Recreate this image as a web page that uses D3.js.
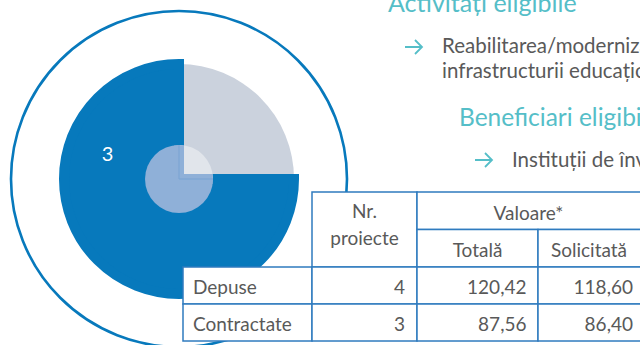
<!DOCTYPE html>
<html lang="ro">
<head>
<meta charset="utf-8">
<script src="https://cdn.jsdelivr.net/npm/d3@7"></script>
<style>
  html, body { margin: 0; padding: 0; background: #ffffff; }
  svg { display: block; }
</style>
</head>
<body>
<svg id="chart" width="640" height="345"></svg>
<script>
// Project status table (values in mil. lei)
const rowLabels = ["Depuse", "Contractate"];
const projectCounts = [4, 3];
const totalValues = [120.42, 87.56];
const requestedValues = [118.60, 86.40];
const groupHeaders = ["Nr.\nproiecte", "Valoare*"];
const subHeaders = ["Totală", "Solicitată"];

// Bullet text beside the chart
const sectionTitles = ["Activități eligibile", "Beneficiari eligibili"];
const activityLines = ["Reabilitarea/modernizarea/extinderea/echiparea", "infrastructurii educaționale"];
const beneficiaryLines = ["Instituții de învățământ superior"];

// Pie: contracted projects vs. the rest of the submitted ones
const pieLabels = ["necontractate", "contractate"];
const pieValues = [projectCounts[0] - projectCounts[1], projectCounts[1]];

const BLUE = "#0779bc";
const GREY = "#cbd2dd";
const TEAL = "#55bec8";
const TEXT = "#595959";
const FONT = "Lato, 'Open Sans', sans-serif";

const svg = d3.select("#chart");
const cx = 179, cy = 179;
const R = 115;

// Outer ring
svg.append("circle")
  .attr("cx", cx).attr("cy", cy).attr("r", 168)
  .attr("fill", "none").attr("stroke", BLUE).attr("stroke-width", 2.6);

const pie = d3.pie().sort(null).value(d => d)(pieValues);
const arc = d3.arc().innerRadius(0).outerRadius(R);
const pieColor = d3.scaleOrdinal().domain(pieLabels).range([GREY, BLUE]);
const pieStroke = d3.scaleOrdinal().domain(pieLabels).range(["none", BLUE]);

const g = svg.append("g").attr("transform", `translate(${cx},${cy})`);
g.selectAll("path.slice")
  .data(pie)
  .join("path")
  .attr("class", "slice")
  .attr("d", arc)
  .attr("fill", (d, i) => pieColor(pieLabels[i]))
  .attr("stroke", (d, i) => pieStroke(pieLabels[i]))
  .attr("stroke-width", 10)
  .attr("stroke-linejoin", "miter");

// Translucent hub: the same slices, lighter, clipped to a small disc
svg.append("defs").append("clipPath").attr("id", "hub")
  .append("circle").attr("cx", 0).attr("cy", 0).attr("r", 34);
const hubColor = d3.scaleOrdinal().domain(pieLabels).range(["#e1e5eb", "#8fb0d8"]);
const hub = g.append("g").attr("clip-path", "url(#hub)");
hub.selectAll("path.hub")
  .data(pie)
  .join("path")
  .attr("class", "hub")
  .attr("d", arc)
  .attr("fill", (d, i) => hubColor(pieLabels[i]))
  .attr("stroke", (d, i) => i === 1 ? hubColor(pieLabels[i]) : "none")
  .attr("stroke-width", 10)
  .attr("stroke-linejoin", "miter");
hub.append("path")
  .attr("d", arc(pie[1]))
  .attr("fill", "none")
  .attr("stroke", "#79a3d3")
  .attr("stroke-width", 1);

// Value label on the contracted slice
const labelPos = d3.pointRadial(-1.22, 76);
g.append("text")
  .attr("x", labelPos[0]).attr("y", labelPos[1])
  .attr("text-anchor", "middle").attr("dominant-baseline", "central")
  .attr("fill", "#ffffff").attr("font-family", FONT).attr("font-size", 20)
  .text(pieValues[1]);

// Right-hand bullet text
const txt = svg.append("g").attr("font-family", FONT);

function bulletArrow(x, y) {
  txt.append("path")
    .attr("d", `M${x},${y}H${x + 17}M${x + 10},${y - 7}L${x + 17},${y}L${x + 10},${y + 7}`)
    .attr("fill", "none").attr("stroke", TEAL).attr("stroke-width", 1.8)
    .attr("stroke-linejoin", "miter");
}

txt.append("text").attr("x", 388).attr("y", 12)
  .attr("fill", TEAL).attr("font-size", 25).text(sectionTitles[0]);
bulletArrow(405, 47);
txt.selectAll("text.act")
  .data(activityLines)
  .join("text")
  .attr("class", "act")
  .attr("x", 442).attr("y", (d, i) => 53 + i * 25)
  .attr("fill", TEXT).attr("font-size", 20.5)
  .text(d => d);
txt.append("text").attr("x", 459).attr("y", 126)
  .attr("fill", TEAL).attr("font-size", 24.5).text(sectionTitles[1]);
bulletArrow(475, 160);
txt.selectAll("text.ben")
  .data(beneficiaryLines)
  .join("text")
  .attr("class", "ben")
  .attr("x", 512).attr("y", 167)
  .attr("fill", TEXT).attr("font-size", 20.5)
  .text(d => d);

// Table
const colEdges = [183, 312, 417, 538, 648];
const rowEdges = [192, 229.5, 267, 304, 341];
const LINE = "#2f7bbf";
const tbl = svg.append("g").attr("font-family", FONT).attr("font-size", 19).attr("fill", TEXT);

function cell(x0, x1, y0, y1) {
  tbl.append("rect")
    .attr("x", x0).attr("y", y0).attr("width", x1 - x0).attr("height", y1 - y0)
    .attr("fill", "#ffffff").attr("stroke", LINE).attr("stroke-width", 1.5);
}

// header cells
cell(colEdges[1], colEdges[2], rowEdges[0], rowEdges[2]);
cell(colEdges[2], colEdges[4], rowEdges[0], rowEdges[1]);
cell(colEdges[2], colEdges[3], rowEdges[1], rowEdges[2]);
cell(colEdges[3], colEdges[4], rowEdges[1], rowEdges[2]);

const nrLines = groupHeaders[0].split("\n");
tbl.selectAll("text.nr")
  .data(nrLines)
  .join("text")
  .attr("class", "nr")
  .attr("x", (colEdges[1] + colEdges[2]) / 2)
  .attr("y", (d, i) => 218 + i * 26.5)
  .attr("text-anchor", "middle")
  .text(d => d);
tbl.append("text")
  .attr("x", (colEdges[2] + 640) / 2).attr("y", 220)
  .attr("text-anchor", "middle").text(groupHeaders[1]);
tbl.selectAll("text.sub")
  .data(subHeaders)
  .join("text")
  .attr("class", "sub")
  .attr("x", (d, i) => i === 0 ? (colEdges[2] + colEdges[3]) / 2 : (colEdges[3] + 640) / 2)
  .attr("y", 257)
  .attr("text-anchor", "middle")
  .text(d => d);

// body rows
const ro = d3.formatLocale({ decimal: ",", thousands: ".", grouping: [3], currency: ["", " lei"] });
const fmt = ro.format(".2f");
rowLabels.forEach((label, r) => {
  const y0 = rowEdges[2 + r], y1 = rowEdges[3 + r];
  for (let c = 0; c < 4; c++) cell(colEdges[c], colEdges[c + 1], y0, y1);
  const base = y0 + 26.5;
  tbl.append("text").attr("x", colEdges[0] + 10).attr("y", base).text(label);
  tbl.append("text").attr("x", colEdges[2] - 12).attr("y", base)
    .attr("text-anchor", "end").text(projectCounts[r]);
  tbl.append("text").attr("x", colEdges[3] - 11.5).attr("y", base)
    .attr("text-anchor", "end").text(fmt(totalValues[r]));
  tbl.append("text").attr("x", 633).attr("y", base)
    .attr("text-anchor", "end").text(fmt(requestedValues[r]));
});
</script>
</body>
</html>
